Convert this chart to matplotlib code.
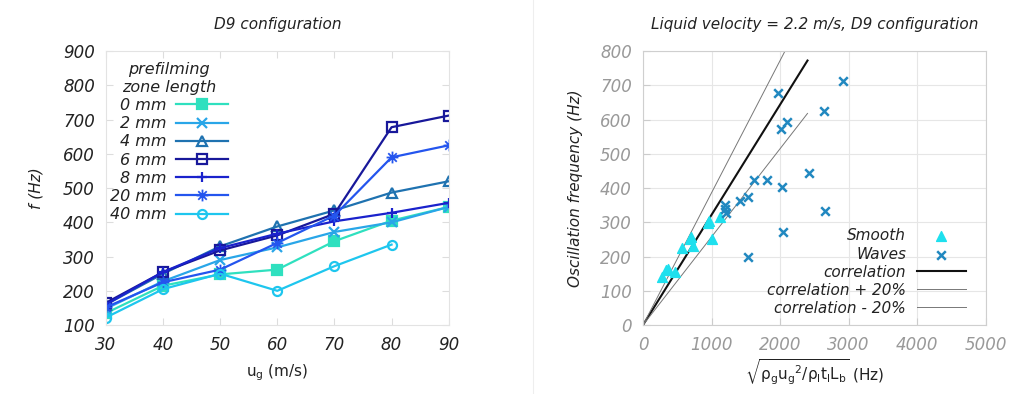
import numpy as np
import matplotlib
matplotlib.use("Agg")
import matplotlib.pyplot as plt
from matplotlib.lines import Line2D
from matplotlib.path import Path

plt.rcParams['font.family'] = ['DejaVu Sans']

# ---- left panel data: frequency vs gas velocity per prefilming length
ug = [30, 40, 50, 60, 70, 80, 90]
lengths = ['0 mm', '2 mm', '4 mm', '6 mm', '8 mm', '20 mm', '40 mm']
f_0mm = [135, 215, 248, 262, 345, 405, 445]
f_2mm = [148, 228, 290, 327, 372, 400, 445]
f_4mm = [160, 250, 330, 388, 435, 487, 520]
f_6mm = [165, 255, 318, 362, 425, 678, 712]
f_8mm = [160, 255, 325, 367, 403, 428, 457]
f_20mm = [152, 225, 262, 340, 420, 590, 625]
f_40mm = [122, 205, 250, 200, 272, 335, np.nan]
series = [f_0mm, f_2mm, f_4mm, f_6mm, f_8mm, f_20mm, f_40mm]
colors = ['#2fe0bf', '#29a6e8', '#1f72b0', '#18189a', '#1a22cc', '#2455ee', '#1ec6ee']

# gnuplot style asterisk: a plus and a cross on top of each other
d = 0.72
star = Path([(-1, 0), (1, 0), (0, -1), (0, 1), (-d, -d), (d, d), (-d, d), (d, -d)],
            [Path.MOVETO, Path.LINETO] * 4)
markers = ['s', 'x', '^', 's', '+', star, 'o']
filled = [True, True, False, False, True, True, False]
msizes = [6.5, 6.5, 6.5, 6.5, 7, 8.5, 6.5]
mwidths = [1.6, 1.6, 1.6, 1.6, 1.6, 1.3, 1.6]

# ---- right panel data
smooth_x = [273, 369, 467, 565, 700, 725, 944, 960, 1011, 1123, 330, 680]
smooth_y = [139, 163, 156, 226, 258, 231, 297, 305, 250, 316, 160, 250]
waves_x = [1965, 2922, 2645, 2009, 2097, 1620, 1813, 2426, 2024, 1415, 1536,
           2655, 2038, 1536, 1190, 1200, 1215]
waves_y = [679, 713, 626, 574, 592, 423, 423, 445, 402, 362, 375,
           334, 272, 199, 350, 340, 328]
corr_slope = 0.322
corr_x = [0, 2400]

fig = plt.figure(figsize=(10.11, 3.94), dpi=100)
ax1 = fig.add_axes([0.1048, 0.175, 0.339, 0.695])
ax2 = fig.add_axes([0.636, 0.175, 0.339, 0.695])

for s, lab, c, m, fl, ms, mw in zip(series, lengths, colors, markers, filled, msizes, mwidths):
    ax1.plot(ug, s, color=c, lw=1.6, marker=m, ms=ms, mew=mw,
             mfc=c if fl else 'none', mec=c, label=lab)

ax1.set_xlim(30, 90)
ax1.set_ylim(100, 900)
ax1.set_xticks(range(30, 91, 10))
ax1.set_yticks(range(100, 901, 100))
ax1.tick_params(direction='in', length=5, color='#dddddd', top=True, right=True,
                labelsize=12, labelcolor='#222222', pad=8)
for lbl in ax1.get_xticklabels() + ax1.get_yticklabels():
    lbl.set_style('italic')
for sp in ax1.spines.values():
    sp.set_color('#e3e3e3')
ax1.set_title('D9 configuration', fontsize=11, style='italic', color='#222222', pad=16)
ax1.set_xlabel(r'u$_\mathregular{g}$ (m/s)', fontsize=11, color='#222222', labelpad=6)
ax1.set_ylabel('f (Hz)', fontsize=11, style='italic', color='#222222', labelpad=14)
leg1 = ax1.legend(title='prefilming\nzone length', loc='upper left', markerfirst=False,
                  frameon=False, fontsize=11.5, handlelength=3.2, labelspacing=0.2,
                  borderaxespad=0.3, bbox_to_anchor=(-0.02, 1.0), handletextpad=0.6)
leg1.get_title().set_fontsize(11.5)
leg1.get_title().set_style('italic')
leg1.get_title().set_color('#222222')
leg1.get_title().set_multialignment('center')
leg1._legend_box.align = 'center'
for t in leg1.get_texts():
    t.set_style('italic')
    t.set_color('#222222')
    t.set_ha('right')

# right panel
ax2.grid(True, color='#e6e6e6', lw=0.8)
ax2.set_axisbelow(True)
ax2.scatter(smooth_x, smooth_y, marker='^', s=50, color='#1ee0ee', label='Smooth', zorder=3)
ax2.scatter(waves_x, waves_y, marker='x', s=38, color='#2188c0', linewidths=1.8, label='Waves', zorder=3)
cx = np.array(corr_x, dtype=float)
ax2.plot(cx, corr_slope * cx, color='#111111', lw=1.5, label='correlation')
ax2.plot(cx, 1.2 * corr_slope * cx, color='#777777', lw=0.7, label='correlation + 20%')
ax2.plot(cx, 0.8 * corr_slope * cx, color='#777777', lw=0.7, label='correlation - 20%')
ax2.set_xlim(0, 5000)
ax2.set_ylim(0, 800)
ax2.set_xticks(range(0, 5001, 1000))
ax2.set_yticks(range(0, 801, 100))
ax2.tick_params(direction='in', length=5, color='#cccccc', labelsize=12,
                labelcolor='#999999', pad=8)
for lbl in ax2.get_xticklabels() + ax2.get_yticklabels():
    lbl.set_style('italic')
for sp in ax2.spines.values():
    sp.set_color('#cfcfcf')
ax2.set_title('Liquid velocity = 2.2 m/s, D9 configuration', fontsize=11, style='italic',
              color='#222222', pad=16)
ax2.set_xlabel(r'$\sqrt{\mathregular{\rho_g u_g{}^2/\rho_l t_l L_b}}$ (Hz)', fontsize=11,
               color='#222222', labelpad=2)
ax2.set_ylabel('Oscillation frequency (Hz)', fontsize=11, style='italic', color='#222222',
               labelpad=12)
leg2 = ax2.legend(loc='lower right', markerfirst=False, frameon=False, fontsize=11,
                  handlelength=3.2, labelspacing=0.2, bbox_to_anchor=(0.982, -0.016),
                  scatterpoints=1, handletextpad=0.7)
for t in leg2.get_texts():
    t.set_style('italic')
    t.set_color('#222222')
    t.set_ha('right')

fig.add_artist(Line2D([0.527, 0.527], [0.0, 1.0], color='#eeeeee', lw=0.8))

fig.savefig('out.png', dpi=100, facecolor='white')
